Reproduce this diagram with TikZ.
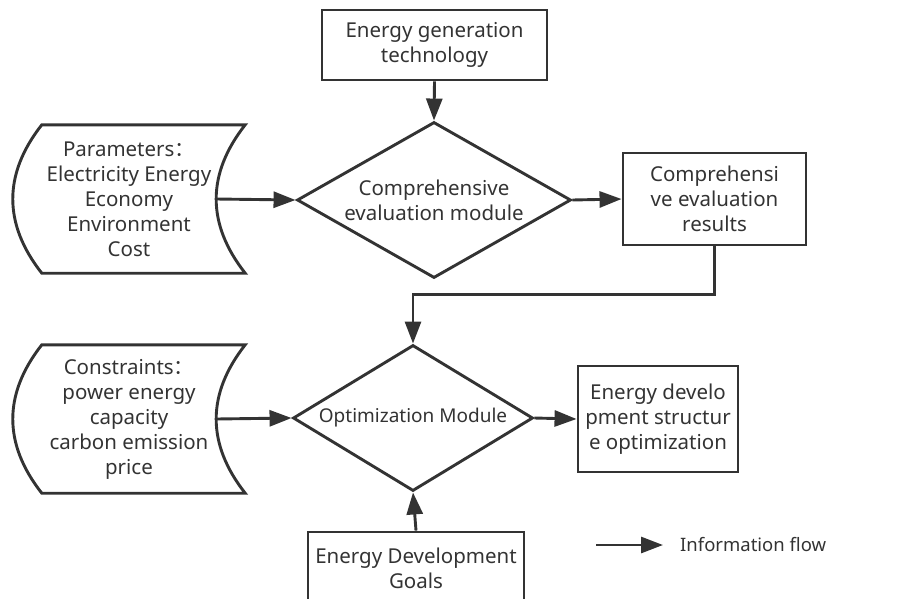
\documentclass[tikz,border=0pt]{standalone}
\usepackage{fontspec}
\setmainfont{Noto Sans}
\newfontfamily\cjk{Noto Sans CJK SC}
\usetikzlibrary{positioning,shapes.geometric,arrows.meta,calc}
\definecolor{ink}{HTML}{333333}
\tikzstyle{border} = [draw=ink,line width=2.9pt]
\tikzstyle{box} = [border,rectangle,align=center,inner sep=0,text=ink]
\tikzstyle{decision} = [border,diamond,align=center,inner ysep=0,inner xsep=-20pt,text=ink]
\tikzstyle{store} = [rectangle,align=center,inner sep=0,text=ink,
                     minimum width=232pt,minimum height=148pt]
\tikzstyle{flow} = [border,-{Triangle[length=22pt,width=16pt]}]

\begin{document}
\begin{tikzpicture}[
    x=1pt,y=-1pt,
    every node/.style={font=\fontsize{20.5pt}{25pt}\selectfont}
]
   \useasboundingbox (0,0) rectangle (902,598);
   \clip (0,0) rectangle (902,598);

   \node[box,minimum width=225pt,minimum height=70pt]  (gen)  at (434.5,45)  {Energy generation\\technology};
   \node[decision,minimum width=274pt,minimum height=156pt,shape aspect=1.75]
                                                       (eval) at (434,200)   {Comprehensive\\evaluation module};
   \node[box,minimum width=183pt,minimum height=92pt]  (res)  at (714.5,199) {Comprehensi\\ve evaluation\\results};
   \node[store]                                        (par)  at (129,199)   {Parameters{\cjk ：}\\Electricity Energy\\Economy\\Environment\\Cost};

   \node[decision,minimum width=240pt,minimum height=146pt,shape aspect=1.64,
         font=\fontsize{19pt}{25pt}\selectfont]        (opt)  at (413,418)   {Optimization Module};
   \node[box,minimum width=160pt,minimum height=106pt] (out)  at (658,419)   {Energy develo\\pment structur\\e optimization};
   \node[store]                                        (con)  at (129,419)   {Constraints{\cjk ：}\\power energy\\capacity\\carbon emission\\price};
   \node[box,minimum width=216pt,minimum height=72pt]  (goal) at (416,568)   {Energy Development\\Goals};

   % storage outlines
   \foreach \n in {par,con}
     \draw[border]
       ($(\n.north west)+(29,0)$) -- (\n.north east)
         .. controls ($(\n.north east)+(-38.7,49.3)$) and ($(\n.south east)+(-38.7,-49.3)$) .. (\n.south east)
       -- ($(\n.south west)+(29,0)$)
         .. controls ($(\n.south west)+(-9.7,-49.3)$) and ($(\n.north west)+(-9.7,49.3)$) .. ($(\n.north west)+(29,0)$)
       -- cycle;

   \draw[flow] (gen.south) -- (eval.north);
   \draw[flow] ($(par.east)+(-29,0)$) -- (eval.west);
   \draw[flow] (eval.east) -- (res.west);
   \draw[flow] (res.south) -- ++(0,48) -| (opt.north);
   \draw[flow] ($(con.east)+(-29,0)$) -- (opt.west);
   \draw[flow] (opt.east) -- (out.west);
   \draw[flow] (goal.north) -- (opt.south);

   % legend
   \coordinate (lgA) at (596,545);
   \coordinate (lgB) at (663,545);
   \draw[flow] (lgA) -- (lgB);
   \node[right=17pt of lgB,text=ink,inner sep=0,font=\fontsize{18.5pt}{22pt}\selectfont] (lgtext) {Information flow};
\end{tikzpicture}
\end{document}
